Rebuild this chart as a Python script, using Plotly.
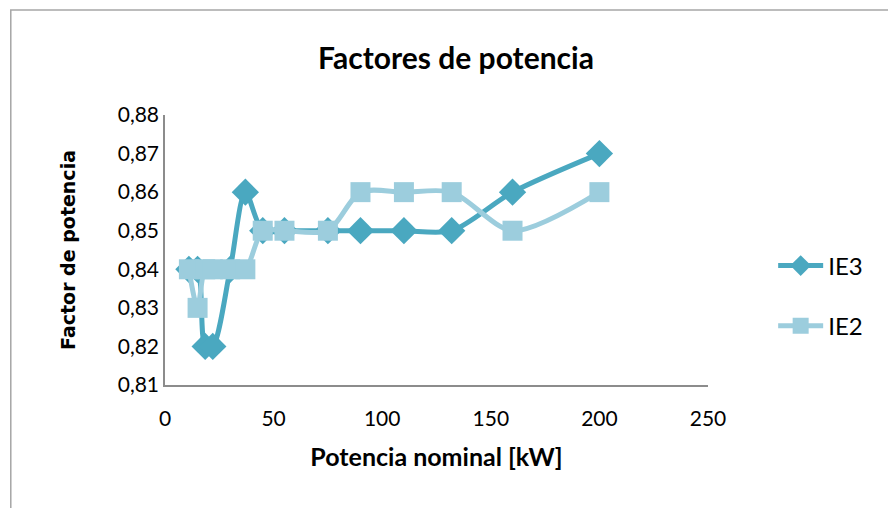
import plotly.graph_objects as go

# Rated power of the motors [kW]
potencia_kw = [11, 15, 18.5, 22, 30, 37, 45, 55, 75, 90, 110, 132, 160, 200]
# Power factor per efficiency class
fp_ie3 = [0.84, 0.84, 0.82, 0.82, 0.84, 0.86, 0.85, 0.85, 0.85, 0.85, 0.85, 0.85, 0.86, 0.87]
fp_ie2 = [0.84, 0.83, 0.84, 0.84, 0.84, 0.84, 0.85, 0.85, 0.85, 0.86, 0.86, 0.86, 0.85, 0.86]

y_ticks = [0.81, 0.82, 0.83, 0.84, 0.85, 0.86, 0.87, 0.88]
y_labels = [f"{v:.2f}".replace(".", ",") for v in y_ticks]
x_ticks = [0, 50, 100, 150, 200, 250]

FONT = "Lato, 'Open Sans', sans-serif"
C_IE3 = "#4aa8c0"
C_IE2 = "#9ccddd"

fig = go.Figure()
fig.add_trace(go.Scatter(
    x=potencia_kw, y=fp_ie3, name="IE3", mode="lines+markers", legendgroup="ie3",
    line=dict(color=C_IE3, width=5, shape="spline", smoothing=0.8),
    marker=dict(symbol="diamond", size=21, color=C_IE3),
))
fig.add_trace(go.Scatter(
    x=potencia_kw, y=fp_ie2, name="IE2", mode="lines+markers", legendgroup="ie2",
    line=dict(color=C_IE2, width=5, shape="spline", smoothing=0.8),
    marker=dict(symbol="square", size=20, color=C_IE2),
))

# outer chart frame (top and left edges visible)
fig.add_shape(type="path", xref="paper", yref="paper",
              path="M -0.284,-0.6 L -0.284,1.389 L 1.4,1.389",
              line=dict(color="#a6a6a6", width=1.5), layer="below")

fig.update_layout(
    width=888, height=508,
    margin=dict(l=165, r=180, t=115, b=123),
    paper_bgcolor="white", plot_bgcolor="white",
    font=dict(family=FONT, size=21, color="black"),
    title=dict(text="<b>Factores de potencia</b>", x=456 / 888, xanchor="center",
               y=1 - 58 / 508, yanchor="middle", font=dict(size=30)),
    showlegend=True,
    legend=dict(x=1.12, xanchor="left", y=(385 - 296) / 270, yanchor="middle",
                font=dict(size=24), tracegroupgap=26, itemwidth=45,
                bgcolor="rgba(0,0,0,0)"),
    xaxis=dict(range=[0, 250], tickvals=x_ticks, showgrid=False, zeroline=False,
               showline=True, linecolor="#8c8c8c", linewidth=1.5, ticks="",
               ticklen=0, ticklabelstandoff=14,
               title=dict(text="<b>Potencia nominal [kW]</b>",
                          font=dict(size=25), standoff=20)),
    yaxis=dict(range=[0.81, 0.88], tickvals=y_ticks, ticktext=y_labels,
               showgrid=False, zeroline=False, showline=True, linecolor="#8c8c8c",
               linewidth=1.5, ticks="",
               title=dict(text="<b>Factor de potencia</b>",
                          font=dict(size=19, family="'DejaVu Sans', Verdana, sans-serif"),
                          standoff=37)),
)

fig.write_html("out.html")
